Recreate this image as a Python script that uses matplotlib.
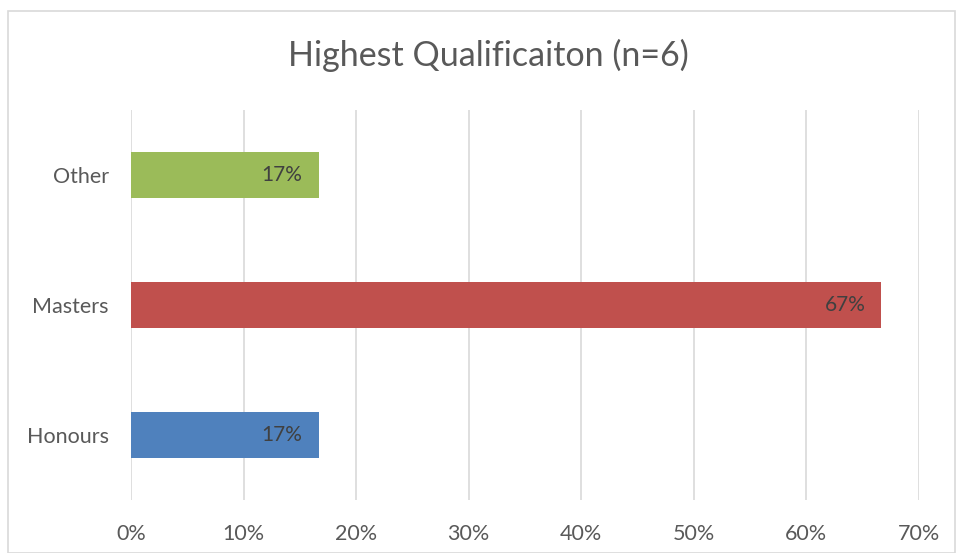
import matplotlib.pyplot as plt
from matplotlib.patches import Rectangle
from matplotlib.ticker import FuncFormatter

categories = ["Honours", "Masters", "Other"]
shares = [16.67, 66.67, 16.67]
value_labels = ["17%", "67%", "17%"]
colors = ["#4F81BD", "#C0504D", "#9BBB59"]
x_ticks = [0, 10, 20, 30, 40, 50, 60, 70]

plt.rcParams["font.family"] = ["Lato", "DejaVu Sans"]

fig = plt.figure(figsize=(9.59, 5.53), dpi=100)
ax = fig.add_axes([0.1366, 0.0958, 0.958 - 0.1366, 0.801 - 0.0958])

fig.patches.append(Rectangle((8 / 959, 0), 947 / 959, 542 / 553, transform=fig.transFigure,
                             fill=False, edgecolor="#D9D9D9", linewidth=1.2))

bars = ax.barh(range(len(categories)), shares, height=0.36, color=colors, zorder=2)

for bar, text in zip(bars, value_labels):
    ax.annotate(text, xy=(bar.get_width(), bar.get_y() + bar.get_height() / 2),
                xytext=(-11.5, 0), textcoords="offset points",
                ha="right", va="center", fontsize=15, color="#404040")

ax.set_xlim(0, 70)
ax.set_ylim(-0.5, 2.5)
ax.set_xticks(x_ticks)
ax.xaxis.set_major_formatter(FuncFormatter(lambda v, p: f"{v:.0f}%"))
ax.set_yticks(range(len(categories)))
ax.set_yticklabels(categories)
ax.tick_params(axis="both", length=0, labelsize=15.5, labelcolor="#595959")
ax.tick_params(axis="x", pad=17)
ax.tick_params(axis="y", pad=16)
ax.grid(axis="x", color="#D9D9D9", linewidth=1.2, zorder=0)
for side in ax.spines.values():
    side.set_visible(False)

fig.text(0.509, 0.9, "Highest Qualificaiton (n=6)", ha="center", va="center",
         fontsize=24.5, color="#595959")

fig.savefig("out.png", dpi=100)
